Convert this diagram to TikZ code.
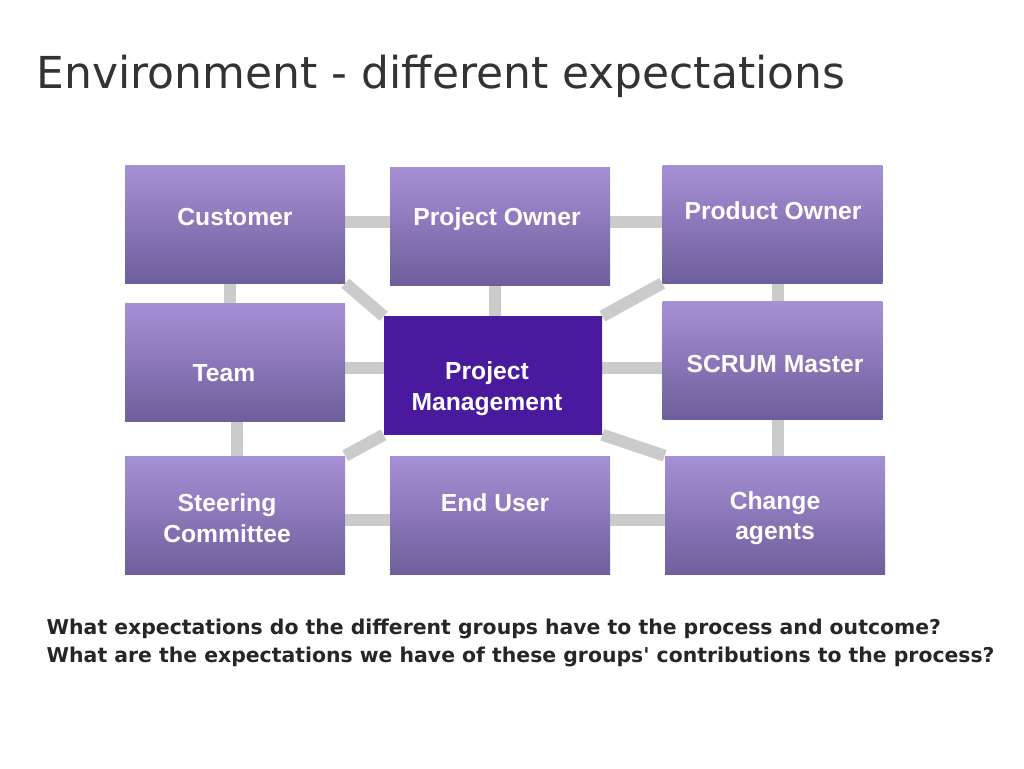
\documentclass[tikz,border=0pt]{standalone}
\usepackage{fontspec}
\setmainfont{Liberation Sans}
\newfontfamily\titlefont{DejaVu Sans}
\pgfdeclarelayer{background}
\pgfsetlayers{background,main}
\begin{document}
\begin{tikzpicture}[x=0.75pt,y=-0.75pt,
  box/.style={draw=none,top color=boxtop,bottom color=boxbot,minimum width=165pt,minimum height=88.5pt,inner sep=0pt},
  lbl/.style={text=white,font=\bfseries\fontsize{18.5}{23}\selectfont,align=center},
  conn/.style={draw=linegray,line width=9pt}]
\definecolor{boxtop}{HTML}{A690D5}
\definecolor{boxbot}{HTML}{6F5E9C}
\definecolor{linegray}{HTML}{CBCBCB}
\definecolor{pmcol}{HTML}{4A1A9E}
\useasboundingbox (0,0) rectangle (1024,768);
\node[anchor=west,text=black!80,font=\titlefont\fontsize{33}{38}\selectfont] (title) at (32,76) {Environment - different expectations};
\node[box] (cust) at (235,224) {};
\node[box] (po) at (500,226) {};
\node[box] (prod) at (772.5,224) {};
\node[box] (team) at (235,362) {};
\node[box,top color=pmcol,bottom color=pmcol,minimum width=163.5pt] (pm) at (493,375.5) {};
\node[box] (scrum) at (772.5,360) {};
\node[box] (steer) at (235,515) {};
\node[box] (eu) at (500,515) {};
\node[box] (chg) at (775,515) {};
\coordinate (h1) at (0,222);
\coordinate (h2) at (0,368);
\coordinate (h3) at (0,520);
\coordinate (v1) at (230,0);
\coordinate (v2) at (237,0);
\coordinate (v3) at (778,0);
\coordinate (v4) at (495,0);
\begin{pgfonlayer}{background}
\path[conn] (cust.east |- h1) -- (po.west |- h1);
\path[conn] (po.east |- h1) -- (prod.west |- h1);
\path[conn] (v1 |- cust.south) -- (v1 |- team.north);
\path[conn] (v3 |- prod.south) -- (v3 |- scrum.north);
\path[conn] (team.east |- h2) -- (pm.west |- h2);
\path[conn] (pm.east |- h2) -- (scrum.west |- h2);
\path[conn] (v2 |- team.south) -- (v2 |- steer.north);
\path[conn] (v3 |- scrum.south) -- (v3 |- chg.north);
\path[conn] (steer.east |- h3) -- (eu.west |- h3);
\path[conn] (eu.east |- h3) -- (chg.west |- h3);
\path[conn] (v4 |- po.south) -- (v4 |- pm.north);
\path[conn] (cust.south east) -- (pm.north west);
\path[conn] (prod.south west) -- (pm.north east);
\path[conn] (steer.north east) -- (pm.south west);
\path[conn] (chg.north west) -- (pm.south east);
\end{pgfonlayer}
\node[lbl] (tc) at (235,217) {Customer};
\node[lbl] (tpo) at (497,219) {Project Owner};
\node[lbl] (tprod) at (773,211) {Product Owner};
\node[lbl] (tteam) at (224,373) {Team};
\node[lbl] (tpm) at (487,389) {Project\\Management};
\node[lbl] (tsc) at (775,364) {SCRUM Master};
\node[lbl] (tst) at (227,518) {Steering\\Committee};
\node[lbl] (teu) at (495,503) {End User};
\node[lbl] (tch) at (775,518) {Change\\agents};
\node[anchor=west,align=left,font=\titlefont\bfseries\fontsize{15.3}{20.5}\selectfont,text=black!85] (q) at (42,643) {What expectations do the different groups have to the process and outcome?\\What are the expectations we have of these groups' contributions to the process?};
\end{tikzpicture}
\end{document}
